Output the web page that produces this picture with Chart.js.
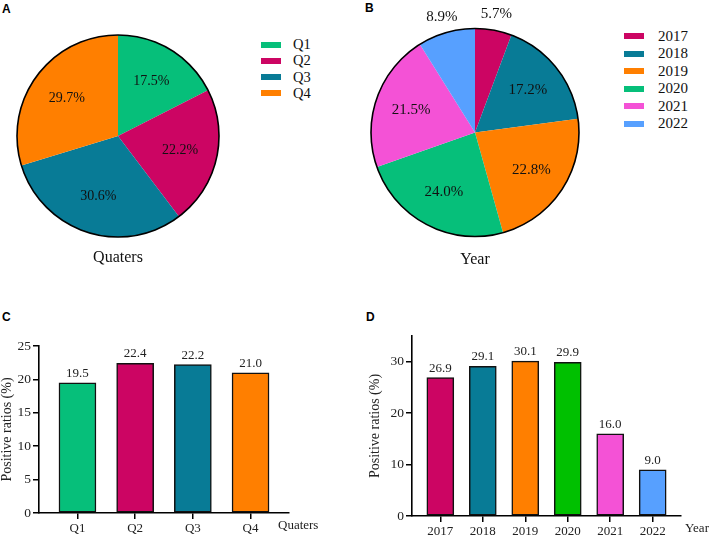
<!DOCTYPE html>
<html>
<head>
<meta charset="utf-8">
<script src="https://cdn.jsdelivr.net/npm/chart.js@4.4.0/dist/chart.umd.min.js"></script>
<style>
  body { margin: 0; width: 709px; height: 537px; background: #fff; position: relative; overflow: hidden;
         font-family: 'Liberation Serif', 'Times New Roman', serif; color: #111; }
  canvas { position: absolute; }
  .panel { position: absolute; font: bold 12px 'Liberation Sans', Arial, sans-serif; line-height: 12px; color: #000; }
  .lg { position: absolute; display: flex; align-items: center; height: 16px; white-space: nowrap; }
  .lg .sw { display: inline-block; width: 20px; height: 6px; }
  .cap { position: absolute; font-size: 16px; transform: translate(-50%, -50%); white-space: nowrap; }
</style>
</head>
<body>
<div class="panel" style="left:2px;top:2.5px">A</div>
<div class="panel" style="left:365px;top:1.5px">B</div>
<div class="panel" style="left:2px;top:310.5px">C</div>
<div class="panel" style="left:366px;top:310.5px">D</div>

<canvas id="pieA" width="240" height="280" style="left:0;top:0"></canvas>
<canvas id="pieB" width="240" height="280" style="left:360px;top:0"></canvas>
<canvas id="barC" width="360" height="247" style="left:0;top:290px"></canvas>
<canvas id="barD" width="349" height="247" style="left:360px;top:290px"></canvas>

<div class="cap" style="left:118px;top:257px">Quaters</div>
<div class="cap" style="left:475px;top:259px">Year</div>
<div id="legendA"></div>
<div id="legendB"></div>

<script>
// data
var quarterLabels = ['Q1', 'Q2', 'Q3', 'Q4'];
var quarterShare = [17.5, 22.2, 30.6, 29.7];
var quarterColors = ['#06BF7A', '#CC0563', '#087B96', '#FF7F00'];

var yearLabels = ['2017', '2018', '2019', '2020', '2021', '2022'];
var yearShare = [5.7, 17.2, 22.8, 24.0, 21.5, 8.9];
var yearColors = ['#CC0563', '#087B96', '#FF7F00', '#06BF7A', '#F452D6', '#57A0FF'];

var quarterRatio = [19.5, 22.4, 22.2, 21.0];
var quarterTicks = [0, 5, 10, 15, 20, 25];

var yearRatio = [26.9, 29.1, 30.1, 29.9, 16.0, 9.0];
var yearBarColors = ['#CC0563', '#087B96', '#FF7F00', '#00C000', '#F452D6', '#57A0FF'];
var yearTicks = [0, 10, 20, 30];

var serif = "'Liberation Serif', 'Times New Roman', serif";

// html legends next to the pies
function buildLegend(id, labels, colors, left, top, step, gap, size) {
  var holder = document.getElementById(id);
  labels.forEach(function(lab, i) {
    var row = document.createElement('div');
    row.className = 'lg';
    row.style.left = left + 'px';
    row.style.top = (top + i * step - 8) + 'px';
    row.style.fontSize = size + 'px';
    row.innerHTML = '<span class="sw" style="background:' + colors[i] + ';margin-right:' + gap + 'px"></span>' + lab;
    holder.appendChild(row);
  });
}
buildLegend('legendA', quarterLabels, quarterColors, 261, 44.5, 16.3, 12, 14.5);
buildLegend('legendB', yearLabels, yearColors, 624, 36.3, 17.5, 14, 15);

// outline + percentage labels for pies
function pieDecor(fontSize, inner) {
  return {
    id: 'pieDecor',
    afterDatasetsDraw: function(chart) {
      var ctx = chart.ctx;
      var arcs = chart.getDatasetMeta(0).data;
      var vals = chart.data.datasets[0].data;
      var a0 = arcs[0];
      ctx.save();
      ctx.beginPath();
      ctx.arc(a0.x, a0.y, a0.outerRadius, 0, Math.PI * 2);
      ctx.lineWidth = 1.6;
      ctx.strokeStyle = '#000';
      ctx.stroke();
      ctx.font = fontSize + 'px ' + serif;
      ctx.fillStyle = '#111';
      ctx.textAlign = 'center';
      ctx.textBaseline = 'middle';
      arcs.forEach(function(arc, i) {
        var mid = (arc.startAngle + arc.endAngle) / 2;
        var d = vals[i] < 10 ? arc.outerRadius + 16 : arc.outerRadius * inner;
        ctx.fillText(vals[i].toFixed(1) + '%', arc.x + Math.cos(mid) * d, arc.y + Math.sin(mid) * d);
      });
      ctx.restore();
    }
  };
}

function pieChart(id, labels, values, colors, pad, fontSize, inner) {
  return new Chart(document.getElementById(id), {
    type: 'pie',
    data: {
      labels: labels,
      datasets: [{ data: values, backgroundColor: colors, borderWidth: 0 }]
    },
    options: {
      responsive: false,
      animation: false,
      devicePixelRatio: 1,
      layout: { padding: pad },
      plugins: { legend: { display: false }, tooltip: { enabled: false } }
    },
    plugins: [pieDecor(fontSize, inner)]
  });
}

pieChart('pieA', quarterLabels, quarterShare, quarterColors,
  { left: 17, top: 35, right: 21, bottom: 43 }, 14, 0.63);
pieChart('pieB', yearLabels, yearShare, yearColors,
  { left: 11, top: 28.5, right: 21, bottom: 43.5 }, 15, 0.65);

// value labels above bars + x title at the right end of the axis
function barDecor(xTitle, titleDx) {
  return {
    id: 'barDecor',
    afterDatasetsDraw: function(chart) {
      var ctx = chart.ctx;
      var bars = chart.getDatasetMeta(0).data;
      var vals = chart.data.datasets[0].data;
      ctx.save();
      ctx.font = '13px ' + serif;
      ctx.fillStyle = '#222';
      ctx.textAlign = 'center';
      ctx.textBaseline = 'alphabetic';
      bars.forEach(function(bar, i) {
        ctx.fillText(vals[i].y.toFixed(1), bar.x, bar.y - 6);
      });
      ctx.textAlign = 'left';
      ctx.textBaseline = 'middle';
      ctx.fillText(xTitle, chart.chartArea.right + titleDx, chart.chartArea.bottom + 13);
      ctx.restore();
    }
  };
}

function barChart(id, cats, vals, colors, ticks, ymax, barW, o) {
  return new Chart(document.getElementById(id), {
    type: 'bar',
    data: {
      datasets: [{
        data: vals.map(function(v, i) { return { x: i, y: v }; }),
        backgroundColor: colors,
        borderColor: '#111',
        borderWidth: 1.5,
        borderSkipped: false,
        barThickness: barW
      }]
    },
    options: {
      responsive: false,
      animation: false,
      devicePixelRatio: 1,
      layout: { padding: { top: o.top, right: o.right, left: 0, bottom: 0 } },
      plugins: { legend: { display: false }, tooltip: { enabled: false } },
      scales: {
        x: {
          type: 'linear',
          offset: false,
          min: -2 / 3,
          max: cats.length - 1 + 2 / 3,
          afterBuildTicks: function(s) { s.ticks = cats.map(function(c, i) { return { value: i }; }); },
          afterFit: function(s) { s.height = o.xh; },
          ticks: {
            callback: function(v) { return cats[v]; },
            font: { family: serif, size: 13 }, color: '#222', padding: 2, maxRotation: 0
          },
          grid: { offset: false, drawOnChartArea: false, color: '#000', lineWidth: 1.5, tickLength: 6 },
          border: { color: '#000', width: 1.6 }
        },
        y: {
          min: 0,
          max: ymax,
          afterBuildTicks: function(s) { s.ticks = ticks.map(function(t) { return { value: t }; }); },
          afterFit: function(s) { s.width = o.yw; },
          ticks: { font: { family: serif, size: 13.5 }, color: '#222', padding: 2 },
          grid: { drawOnChartArea: false, color: '#000', lineWidth: 1.5, tickLength: 6 },
          border: { color: '#000', width: 1.6 },
          title: {
            display: true, text: 'Positive ratios (%)', color: '#222',
            font: { family: serif, size: 14, lineHeight: 1 }, padding: { top: o.tp, bottom: 0 }
          }
        }
      }
    },
    plugins: [barDecor(o.xTitle, o.tdx)]
  });
}

barChart('barC', quarterLabels, quarterRatio, quarterColors, quarterTicks, 25, 37,
  { top: 56, right: 71, xh: 24, yw: 39, tp: 0, xTitle: 'Quaters', tdx: -11 });
barChart('barD', yearLabels, yearRatio, yearBarColors, yearTicks, 35, 27,
  { top: 46, right: 28, xh: 21, yw: 52, tp: 8.5, xTitle: 'Year', tdx: 4 });
</script>
</body>
</html>
